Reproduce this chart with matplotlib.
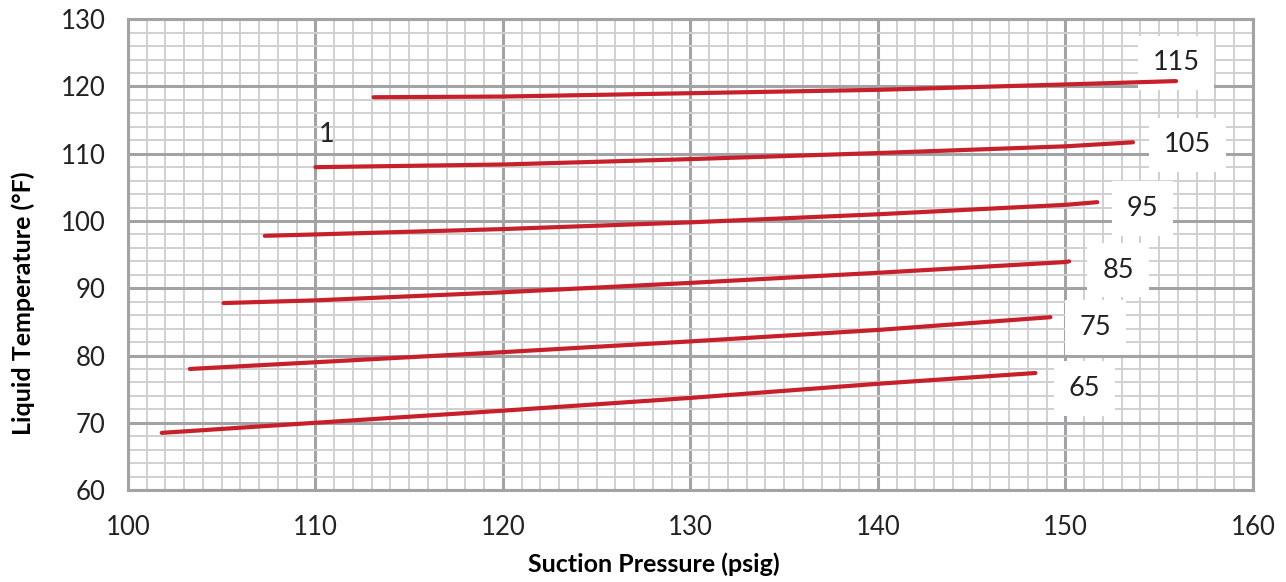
import matplotlib
matplotlib.use("Agg")
import matplotlib.pyplot as plt
from matplotlib.ticker import MultipleLocator

plt.rcParams['font.family'] = ['Lato', 'DejaVu Sans']

# Curves: suction pressure (psig) vs liquid temperature (F)
x_115 = [113.1, 120, 130, 140, 150, 155.9]
y_115 = [118.4, 118.5, 119.0, 119.5, 120.3, 120.8]
x_105 = [110.0, 120, 130, 140, 150, 153.6]
y_105 = [108.0, 108.4, 109.2, 110.1, 111.1, 111.7]
x_95 = [107.3, 110, 120, 130, 140, 150, 151.7]
y_95 = [97.8, 98.0, 98.8, 99.8, 101.0, 102.4, 102.8]
x_85 = [105.1, 110, 120, 130, 140, 150, 150.2]
y_85 = [87.8, 88.2, 89.4, 90.8, 92.3, 93.9, 94.0]
x_75 = [103.3, 110, 120, 130, 140, 149.2]
y_75 = [78.0, 79.0, 80.5, 82.1, 83.8, 85.7]
x_65 = [101.8, 110, 120, 130, 140, 148.4]
y_65 = [68.5, 70.0, 71.8, 73.7, 75.8, 77.4]

curve_names = ["115", "105", "95", "85", "75", "65"]
curve_x = [x_115, x_105, x_95, x_85, x_75, x_65]
curve_y = [y_115, y_105, y_95, y_85, y_75, y_65]

# label positions (data coords)
label_x = [155.9, 156.5, 154.1, 152.8, 151.6, 151.0]
label_y = [123.5, 111.3, 101.9, 92.7, 84.2, 75.1]

fig = plt.figure(figsize=(12.86, 5.82), dpi=100)
ax = fig.add_axes([0.0995, 0.158, 0.8748, 0.809])

for xs, ys in zip(curve_x, curve_y):
    ax.plot(xs, ys, color='#c8202b', linewidth=3, solid_capstyle='round', zorder=4)

for name, lx, ly in zip(curve_names, label_x, label_y):
    ax.text(lx, ly, name, fontsize=19.5, color='#222222', ha='center', va='center', zorder=3,
            bbox=dict(facecolor='white', edgecolor='none', boxstyle='square,pad=0.55'))

ax.text(110.6, 112.8, "1", fontsize=19.5, color='#222222', ha='center', va='center', zorder=3)

ax.set_xlim(100, 160)
ax.set_ylim(60, 130)
ax.xaxis.set_major_locator(MultipleLocator(10))
ax.xaxis.set_minor_locator(MultipleLocator(1))
ax.yaxis.set_major_locator(MultipleLocator(10))
ax.yaxis.set_minor_locator(MultipleLocator(2))

ax.grid(which='minor', color='#d0d0d0', linewidth=1.4, zorder=1)
ax.grid(which='major', color='#a3a3a5', linewidth=2.2, zorder=2)
ax.set_axisbelow(True)

for side in ['top', 'right', 'left', 'bottom']:
    ax.spines[side].set_color('#a3a3a5')
    ax.spines[side].set_linewidth(2.2)

ax.tick_params(which='both', length=0, labelsize=18.5, colors='#222222')
ax.tick_params(axis='y', pad=16)
ax.tick_params(axis='x', pad=18)

ax.set_xlabel("Suction Pressure (psig)", fontsize=18, fontweight='bold')
ax.set_ylabel("Liquid Temperature (°F)", fontsize=18, fontweight='bold')
ax.xaxis.set_label_coords(0.4676, -0.132)
ax.yaxis.set_label_coords(-0.083, 0.397)

fig.savefig("out.png", dpi=100)
